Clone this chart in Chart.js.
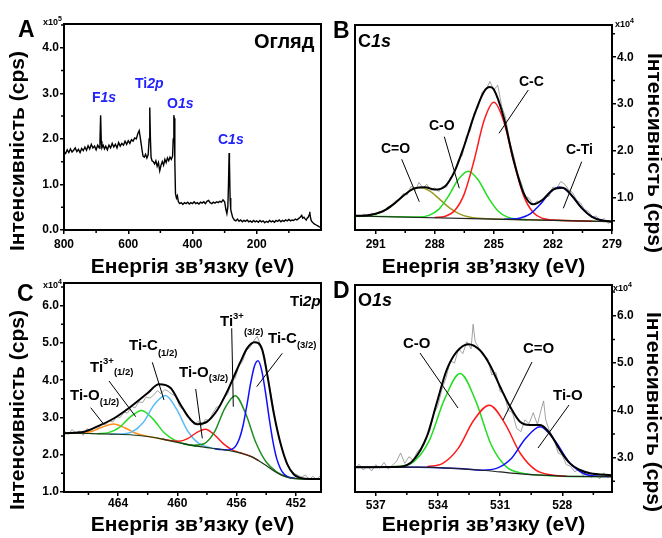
<!DOCTYPE html>
<html>
<head>
<meta charset="utf-8">
<script src="https://cdn.jsdelivr.net/npm/chart.js@4.4.1/dist/chart.umd.min.js"></script>
<style>
  html, body { margin: 0; padding: 0; background: #fff; }
  #wrap { position: relative; width: 662px; height: 538px; overflow: hidden; }
  #wrap canvas { position: absolute; left: 0; top: 0; }
</style>
</head>
<body>
<div id="wrap">
  <canvas id="panelA" width="662" height="538"></canvas>
  <canvas id="panelB" width="662" height="538"></canvas>
  <canvas id="panelC" width="662" height="538"></canvas>
  <canvas id="panelD" width="662" height="538"></canvas>
</div>
<script>
// ---- data: [binding energy eV, intensity] ----

// A: survey, x10^5 cps
const surveyA = [
  [800,1.72],[795,1.68],[790,1.76],[785,1.70],[780,1.78],[775,1.71],[770,1.75],[765,1.80],[760,1.72],[755,1.77],
  [750,1.70],[745,1.79],[740,1.74],[735,1.82],[730,1.75],[725,1.85],[720,1.78],[715,1.88],[710,1.80],[705,1.84],
  [700,1.76],[695,1.86],[690,1.80],[688,1.95],[686,2.52],[684,1.95],[682,1.80],[678,1.86],[674,1.78],[670,1.84],
  [665,1.76],[660,1.86],[655,1.80],[650,1.90],[645,1.82],[640,1.88],[635,1.80],[630,1.92],[625,1.84],[620,1.90],
  [615,1.86],[610,1.95],[605,1.88],[600,1.96],[595,1.90],[590,1.98],[585,1.95],[580,2.02],[575,2.00],[570,2.12],
  [566,2.18],[563,2.05],[560,1.90],[557,1.75],[554,1.62],[550,1.60],[546,1.66],[542,1.58],[538,1.65],[535,2.00],
  [533,2.69],[531,2.00],[529,1.60],[526,1.52],[522,1.50],[518,1.45],[514,1.52],[510,1.40],[506,1.48],[502,1.30],
  [498,1.42],[494,1.50],[490,1.42],[486,1.55],[482,1.48],[478,1.58],[474,1.52],[470,1.60],[466,1.55],[462,1.62],
  [460,2.00],[458,2.52],[457,2.45],[455,1.50],[453,0.80],[450,0.70],[447,0.75],[444,0.62],[440,0.58],[435,0.60],
  [430,0.56],[425,0.60],[420,0.58],[415,0.61],[410,0.57],[405,0.60],[400,0.58],[395,0.62],[390,0.58],[385,0.60],
  [380,0.57],[375,0.61],[370,0.59],[365,0.62],[360,0.58],[355,0.63],[350,0.65],[345,0.60],[340,0.58],[335,0.61],
  [330,0.59],[325,0.62],[320,0.60],[315,0.63],[310,0.61],[305,0.66],[300,0.62],[296,0.45],[293,0.36],[290,0.50],
  [288,1.00],[286,1.69],[285,1.50],[283,0.70],[281,0.45],[278,0.36],[275,0.28],[270,0.22],[265,0.20],[260,0.24],
  [255,0.19],[250,0.22],[245,0.18],[240,0.21],[235,0.19],[230,0.22],[225,0.18],[220,0.20],[215,0.17],[210,0.21],
  [205,0.18],[200,0.20],[195,0.17],[190,0.21],[185,0.18],[180,0.20],[175,0.16],[170,0.19],[165,0.17],[160,0.21],
  [155,0.18],[150,0.20],[145,0.17],[140,0.21],[135,0.19],[130,0.22],[125,0.18],[120,0.21],[115,0.19],[110,0.22],
  [105,0.20],[100,0.23],[95,0.20],[90,0.22],[85,0.21],[80,0.24],[75,0.22],[70,0.25],[65,0.28],[60,0.32],
  [57,0.26],[53,0.28],[50,0.25],[46,0.22],[43,0.26],[40,0.28],[37,0.33],[35,0.40],[33,0.28],[30,0.20],
  [25,0.16],[20,0.13],[15,0.11],[10,0.09],[5,0.07],[1,0.06]
];

// B: C1s, x10^4 cps
const c1sRaw = [
  [292,0.62],[291.8,0.58],[291.6,0.64],[291.4,0.60],[291.2,0.66],[291,0.63],[290.8,0.70],[290.6,0.68],[290.4,0.79],[290.2,0.80],
  [290,0.92],[289.8,0.95],[289.6,1.08],[289.4,1.05],[289.2,1.24],[289,1.14],[288.8,1.32],[288.6,1.20],[288.4,1.28],[288.2,1.15],
  [288,1.20],[287.8,1.12],[287.6,1.24],[287.4,1.22],[287.2,1.42],[287,1.50],[286.8,1.80],[286.6,1.90],[286.4,2.30],[286.2,2.42],
  [286,2.80],[285.8,2.92],[285.6,3.25],[285.4,3.30],[285.2,3.48],[285,3.30],[284.8,3.40],[284.6,2.95],[284.4,2.70],[284.2,2.20],
  [284,1.90],[283.8,1.52],[283.6,1.30],[283.4,1.02],[283.2,0.98],[283,0.84],[282.8,0.92],[282.6,0.86],[282.4,1.02],[282.2,1.02],
  [282,1.22],[281.8,1.20],[281.6,1.34],[281.4,1.28],[281.2,1.16],[281,1.10],[280.8,0.94],[280.6,0.88],[280.4,0.74],[280.2,0.70],
  [280,0.58],[279.8,0.60],[279.6,0.48],[279.4,0.55],[279.2,0.44],[279,0.50]
];
const c1sEnvelope = [
  [292.05,0.605],[291.5,0.612],[291,0.647],[290.5,0.733],[290,0.884],[289.5,1.065],[289,1.197],[288.5,1.215],[288,1.166],
  [287.5,1.227],[287,1.55],[286.5,2.11],[286,2.755],[285.5,3.262],[285.2,3.36],[285,3.31],[284.5,2.716],[284,1.803],
  [283.5,1.101],[283,0.85],[282.5,0.956],[282,1.165],[281.5,1.207],[281,1.016],[280.5,0.753],[280,0.578],[279.5,0.506],[279,0.483]
];
const c1sBaseline = [[292.05,0.60],[285,0.535],[279,0.48]];
const c1sCeqO = [
  [292.05,0.605],[291.75,0.606],[291.25,0.624],[290.75,0.681],[290.25,0.801],[289.75,0.975],[289.25,1.143],[288.75,1.21],
  [288.25,1.133],[287.75,0.957],[287.25,0.773],[286.75,0.645],[286.25,0.578],[285.75,0.55],[285.25,0.539],[283,0.517],[279,0.48]
];
const c1sCO = [
  [292.05,0.60],[290,0.582],[288.8,0.579],[288.3,0.613],[287.8,0.742],[287.3,1.026],[286.8,1.385],[286.3,1.557],
  [285.8,1.375],[285.3,1.007],[284.8,0.713],[284.3,0.576],[283.8,0.532],[283.3,0.52]
];
const c1sCC = [
  [288,0.568],[287.5,0.591],[287,0.71],[286.5,1.074],[286,1.795],[285.5,2.64],[285,3.035],[284.5,2.631],[284,1.776],
  [283.5,1.047],[283,0.673],[282.5,0.545],[282,0.513],[280,0.489]
];
const c1sCTi = [
  [284.5,0.531],[284.15,0.533],[283.65,0.556],[283.15,0.645],[282.65,0.845],[282.15,1.10],[281.65,1.22],[281.15,1.09],
  [280.65,0.827],[280.15,0.617],[279.65,0.519],[279.15,0.487],[279,0.482]
];

// C: Ti2p, x10^4 cps
const ti2pRaw = [
  [467.6,2.62],[467.35,2.55],[467.1,2.68],[466.85,2.58],[466.6,2.64],[466.35,2.52],[466.1,2.70],[465.85,2.62],[465.6,2.74],[465.35,2.70],
  [465.1,2.84],[464.85,2.80],[464.6,2.92],[464.35,2.88],[464.1,3.02],[463.85,3.00],[463.6,3.14],[463.35,3.12],[463.1,3.30],[462.85,3.26],
  [462.6,3.42],[462.35,3.40],[462.1,3.55],[461.85,3.52],[461.6,3.60],[461.35,3.72],[461.1,3.64],[460.85,3.75],[460.6,3.70],[460.35,3.62],
  [460.1,3.58],[459.85,3.30],[459.6,3.20],[459.35,3.02],[459.1,2.98],[458.85,2.80],[458.6,2.90],[458.35,2.78],[458.1,2.95],[457.85,2.92],
  [457.6,3.12],[457.35,3.28],[457.1,3.30],[456.85,3.55],[456.6,3.62],[456.35,3.95],[456.1,4.05],[455.85,4.38],[455.6,4.50],[455.35,4.80],
  [455.1,4.88],[454.85,5.05],[454.6,5.18],[454.35,4.90],[454.1,4.62],[453.85,4.00],[453.6,3.45],[453.35,2.85],[453.1,2.40],[452.85,2.05],
  [452.6,1.78],[452.35,1.58],[452.1,1.50],[451.85,1.45],[451.6,1.40],[451.35,1.46],[451.1,1.34],[450.85,1.42],[450.6,1.33],[450.35,1.44]
];
const ti2pEnvelope = [
  [467.65,2.58],[466.29,2.62],[465.39,2.76],[464.27,2.98],[463.15,3.29],[462.02,3.65],[461.24,3.89],[460.45,3.79],[459.78,3.34],
  [459.1,2.94],[458.65,2.82],[457.98,2.89],[457.3,3.2],[456.63,3.7],[456.18,4.1],[455.73,4.5],[455.28,4.86],[454.79,5.02],
  [454.27,4.82],[453.93,4.15],[453.48,3.1],[453.03,2.3],[452.58,1.75],[452.13,1.47],[451.69,1.38],[451.01,1.35],[450.3,1.35]
];
const ti2pBaseline = [
  [467.65,2.58],[466,2.57],[464,2.55],[463,2.53],[462,2.49],[461,2.42],[460,2.33],[459,2.25],[458,2.19],[457,2.14],[456,2.07],
  [455.5,2.02],[455,1.95],[454.5,1.84],[454,1.71],[453.5,1.57],[453,1.46],[452.5,1.39],[452,1.36],[451,1.34],[450.3,1.34]
];
const tiO12 = [
  [467.3,2.58],[466.55,2.583],[465.8,2.622],[465.05,2.743],[464.3,2.825],[463.55,2.723],[462.8,2.577],[462.05,2.498],[461.3,2.44],[460.5,2.375]
];
const ti3p12 = [
  [465.4,2.566],[464.65,2.594],[463.9,2.735],[463.15,3.023],[462.4,3.19],[461.65,2.963],[460.9,2.597],[460.15,2.382],[459.4,2.284],[458.7,2.225]
];
const tiC12 = [
  [464.55,2.553],[463.8,2.557],[463.05,2.613],[462.3,2.867],[461.55,3.347],[460.8,3.59],[460.05,3.222],[459.3,2.637],[458.55,2.303],
  [457.8,2.191],[457.05,2.14]
];
const tiO32 = [
  [461,2.42],[460.5,2.381],[459.9,2.361],[459.3,2.432],[458.7,2.596],[458.1,2.685],[457.5,2.536],[456.9,2.297],[456.3,2.131],
  [455.7,2.046],[455,1.95],[454.5,1.84]
];
const ti3p32 = [
  [459.6,2.29],[458.9,2.256],[458.2,2.294],[457.5,2.604],[456.8,3.24],[456.1,3.585],[455.4,3.12],[454.7,2.329],[454,1.804],
  [453.3,1.541],[452.5,1.39],[452,1.36],[451,1.34],[450.3,1.34]
];
const tiC32 = [
  [457.5,2.165],[457.05,2.14],[456.55,2.13],[456.3,2.15],[456.05,2.24],[455.8,2.44],[455.55,2.805],[455.3,3.335],[455.05,3.92],
  [454.8,4.37],[454.55,4.52],[454.3,4.26],[454.05,3.68],[453.8,2.985],[453.55,2.365],[453.3,1.91],[453.05,1.637],[452.8,1.48],
  [452.55,1.41],[452.05,1.36]
];

// D: O1s, x10^4 cps
const o1sRaw = [
  [538,2.78],[537.8,2.86],[537.6,2.74],[537.4,2.82],[537.2,2.72],[537,2.85],[536.8,2.78],[536.6,2.90],[536.4,2.76],[536.2,2.84],
  [536,2.92],[535.8,3.10],[535.6,2.88],[535.4,3.02],[535.2,2.95],[535,3.12],[534.8,3.22],[534.6,3.40],[534.4,3.55],[534.2,3.92],
  [534,4.10],[533.8,4.45],[533.6,4.70],[533.4,5.05],[533.2,5.00],[533,5.30],[532.8,5.20],[532.6,5.45],[532.4,5.30],[532.3,5.82],
  [532.2,5.45],[532,5.30],[531.8,5.15],[531.6,5.10],[531.4,4.75],[531.2,4.80],[531,4.40],[530.8,4.35],[530.6,4.00],[530.4,3.95],
  [530.2,3.62],[530,3.55],[529.8,3.80],[529.6,3.72],[529.4,3.95],[529.2,3.70],[529,4.05],[528.9,4.20],[528.8,3.80],[528.6,3.55],
  [528.4,3.40],[528.2,3.10],[528,3.05],[527.8,2.85],[527.6,2.82],[527.4,2.70],[527.2,2.76],[527,2.62],[526.8,2.70],[526.6,2.58],
  [526.4,2.66],[526.2,2.55],[526,2.68],[525.8,2.58],[525.6,2.65]
];
const o1sEnvelope = [
  [538,2.80],[535.83,2.81],[535.18,2.95],[534.54,3.44],[534.06,4.15],[533.58,4.85],[533.09,5.24],[532.53,5.40],[531.97,5.27],
  [531.49,4.96],[531,4.50],[530.52,4.08],[530.04,3.76],[529.56,3.69],[529.07,3.69],[528.59,3.51],[528.11,3.16],[527.63,2.88],
  [527.14,2.74],[526.66,2.67],[525.6,2.63]
];
const o1sBaseline = [[538,2.80],[535,2.80],[534,2.79],[533,2.77],[532,2.74],[531,2.70],[530,2.66],[529,2.63],[528,2.61],[525.6,2.60]];
const o1sCO = [
  [538,2.80],[535.93,2.812],[535.18,2.911],[534.43,3.349],[533.68,4.237],[532.93,4.78],[532.18,4.207],[531.43,3.274],[530.68,2.801],
  [529.93,2.672],[529,2.63],[528,2.61],[525.6,2.60]
];
const o1sCeqO = [
  [534.52,2.81],[533.77,2.88],[533.02,3.198],[532.27,3.791],[531.52,4.11],[530.77,3.726],[530.02,3.088],[529.27,2.735],[528.52,2.633],[527.8,2.608]
];
const o1sTiO = [
  [538,2.80],[535,2.80],[533,2.77],[531.87,2.737],[531.17,2.774],[530.47,2.977],[529.77,3.405],[529.07,3.652],[528.37,3.368],
  [527.67,2.904],[526.97,2.667],[526.27,2.607],[525.6,2.60]
];

// ticks
const ticksAx = [800, 600, 400, 200], minorAx = [700, 500, 300, 100];
const ticksAy = [0, 1, 2, 3, 4], minorAy = [0.5, 1.5, 2.5, 3.5, 4.5];
const ticksBx = [291, 288, 285, 282, 279], minorBx = [289.5, 286.5, 283.5, 280.5];
const ticksBy = [1, 2, 3, 4], minorBy = [0.5, 1.5, 2.5, 3.5, 4.5];
const ticksCx = [464, 460, 456, 452], minorCx = [466, 462, 458, 454];
const ticksCy = [1, 2, 3, 4, 5, 6], minorCy = [1.5, 2.5, 3.5, 4.5, 5.5, 6.5];
const ticksDx = [537, 534, 531, 528], minorDx = [535.5, 532.5, 529.5, 526.5];
const ticksDy = [3, 4, 5, 6], minorDy = [2.5, 3.5, 4.5, 5.5, 6.5];

// ---- drawing ----
const FAMILY = '"Liberation Sans", Arial, Helvetica, sans-serif';
const W = 662, H = 538;
const BLUE_TXT = '#2222ff';
const XTITLE = 'Енергія зв’язку (eV)';
const YTITLE = 'Інтенсивність (cps)';

function font(size, italic) {
  return (italic ? 'italic ' : '') + 'bold ' + size + 'px ' + FAMILY;
}

function series(pairs, color, width, smooth) {
  return {
    data: pairs.map(([x, y]) => ({ x, y })),
    showLine: true,
    borderColor: color,
    borderWidth: width,
    pointRadius: 0,
    fill: false,
    tension: 0,
    cubicInterpolationMode: smooth ? 'monotone' : 'default'
  };
}

function drawRuns(ctx, item) {
  let total = 0;
  item.runs.forEach(r => { ctx.font = font(r[1], r[2]); r.w = ctx.measureText(r[0]).width; total += r.w; });
  let x = item.align === 'center' ? item.x - total / 2 : item.x;
  ctx.fillStyle = item.color || '#000';
  ctx.textAlign = 'left';
  ctx.textBaseline = 'alphabetic';
  item.runs.forEach(r => {
    ctx.font = font(r[1], r[2]);
    ctx.fillText(r[0], x, item.y + (r[3] || 0));
    x += r.w;
  });
}

function decor(p) {
  return {
    id: 'decor',
    afterDraw(chart) {
      const { ctx, chartArea: a, scales } = chart;
      ctx.save();
      ctx.strokeStyle = '#000';
      ctx.lineWidth = 2;
      ctx.strokeRect(a.left, a.top, a.right - a.left, a.bottom - a.top);

      ctx.lineWidth = 1.5;
      ctx.beginPath();
      p.minorX.forEach(v => {
        const px = scales.x.getPixelForValue(v);
        ctx.moveTo(px, a.bottom); ctx.lineTo(px, a.bottom + 3);
      });
      p.minorY.forEach(v => {
        const py = scales.y.getPixelForValue(v);
        if (p.yRight) { ctx.moveTo(a.right, py); ctx.lineTo(a.right + 3, py); }
        else { ctx.moveTo(a.left, py); ctx.lineTo(a.left - 3, py); }
      });
      ctx.stroke();

      ctx.lineWidth = 1;
      ctx.beginPath();
      p.leaders.forEach(([x1, y1, x2, y2]) => { ctx.moveTo(x1, y1); ctx.lineTo(x2, y2); });
      ctx.stroke();

      p.labels.forEach(l => drawRuns(ctx, l));

      // axis titles
      ctx.fillStyle = '#000';
      ctx.font = font(21);
      ctx.textAlign = 'center';
      ctx.textBaseline = 'alphabetic';
      ctx.fillText(XTITLE, (a.left + a.right) / 2, p.xTitleY);
      ctx.save();
      ctx.translate(p.yTitle[0], p.yTitle[1]);
      ctx.rotate(p.yRight ? Math.PI / 2 : -Math.PI / 2);
      ctx.fillText(YTITLE, 0, 0);
      ctx.restore();
      ctx.restore();
    }
  };
}

function makePanel(id, p) {
  const yW = p.yRight ? 50 : 64;
  const xH = 30;
  const pad = {
    top: p.area.t,
    left: p.yRight ? p.area.l : p.area.l - yW,
    right: p.yRight ? W - p.area.r - yW : W - p.area.r,
    bottom: H - p.area.b - xH
  };
  const tickFont = { family: FAMILY, size: 12, weight: 'bold' };
  return new Chart(document.getElementById(id), {
    type: 'scatter',
    data: { datasets: p.datasets },
    options: {
      responsive: false,
      animation: false,
      events: [],
      layout: { padding: pad },
      plugins: { legend: { display: false }, tooltip: { enabled: false } },
      scales: {
        x: {
          type: 'linear', reverse: true, min: p.x[0], max: p.x[1],
          afterBuildTicks: s => { s.ticks = p.ticksX.map(v => ({ value: v })); },
          afterFit: s => { s.height = xH; },
          grid: { drawOnChartArea: false, drawTicks: true, tickLength: 4, color: '#000', lineWidth: 1.5 },
          border: { display: true, color: '#000', width: 2 },
          ticks: { color: '#000', font: tickFont, padding: p.xPad, maxRotation: 0, autoSkip: false, callback: v => String(v) }
        },
        y: {
          type: 'linear', position: p.yRight ? 'right' : 'left', min: p.y[0], max: p.y[1],
          afterBuildTicks: s => { s.ticks = p.ticksY.map(v => ({ value: v })); },
          afterFit: s => { s.width = yW; },
          grid: { drawOnChartArea: false, drawTicks: true, tickLength: 4, color: '#000', lineWidth: 1.5 },
          border: { display: true, color: '#000', width: 2 },
          ticks: { color: '#000', font: tickFont, padding: 1, autoSkip: false, callback: v => v.toFixed(1) }
        }
      }
    },
    plugins: [decor(p)]
  });
}

const mult = (x, y, n) => ({ x, y, runs: [['x10', 9], [n, 7, false, -4]] });

// A: survey
makePanel('panelA', {
  area: { l: 64, t: 24, r: 321, b: 230 },
  x: [0, 800], y: [0, 4.52],
  ticksX: ticksAx, minorX: minorAx, ticksY: ticksAy, minorY: minorAy,
  xPad: 3, xTitleY: 273, yTitle: [24, 151],
  datasets: [series(surveyA, '#000', 1.4, false)],
  leaders: [],
  labels: [
    { x: 18, y: 37, runs: [['A', 23]] },
    mult(43, 25, '5'),
    { x: 254, y: 48, runs: [['Огляд', 20]] },
    { x: 92, y: 102, color: BLUE_TXT, runs: [['F', 14], ['1s', 14, true]] },
    { x: 135, y: 88, color: BLUE_TXT, runs: [['Ti', 14], ['2p', 14, true]] },
    { x: 167, y: 108, color: BLUE_TXT, runs: [['O', 14], ['1s', 14, true]] },
    { x: 218, y: 144, color: BLUE_TXT, runs: [['C', 14], ['1s', 14, true]] }
  ]
});

// B: C1s
makePanel('panelB', {
  area: { l: 355, t: 25, r: 612, b: 230 }, yRight: true,
  x: [279, 292.05], y: [0.3, 4.69],
  ticksX: ticksBx, minorX: minorBx, ticksY: ticksBy, minorY: minorBy,
  xPad: 3, xTitleY: 273, yTitle: [648, 153],
  datasets: [
    series(c1sEnvelope, '#000', 2, true),
    series(c1sBaseline, '#222', 1.2, false),
    series(c1sCTi, '#1010ff', 1.5, true),
    series(c1sCC, '#ff1a1a', 1.5, true),
    series(c1sCO, '#22dd22', 1.5, true),
    series(c1sCeqO, '#9a9a1e', 1.5, true),
    series(c1sRaw, '#8a8a8a', 0.8, false)
  ],
  leaders: [[401.7, 159.3, 419.3, 201.7], [444.3, 136.7, 459.3, 188.3], [528.3, 90, 499, 133.3], [581.7, 161.7, 563.3, 208.3]],
  labels: [
    { x: 333, y: 38, runs: [['B', 23]] },
    { x: 358, y: 47, runs: [['C', 18], ['1s', 18, true]] },
    mult(615, 27, '4'),
    { x: 381, y: 153, runs: [['C=O', 14]] },
    { x: 429, y: 130, runs: [['C-O', 14]] },
    { x: 519, y: 86, runs: [['C-C', 14]] },
    { x: 566, y: 154, runs: [['C-Ti', 14]] }
  ]
});

// C: Ti2p
makePanel('panelC', {
  area: { l: 64, t: 283, r: 321, b: 492 },
  x: [450.3, 467.65], y: [1.0, 6.61],
  ticksX: ticksCx, minorX: minorCx, ticksY: ticksCy, minorY: minorCy,
  xPad: 0, xTitleY: 531, yTitle: [24, 410],
  datasets: [
    series(ti2pEnvelope, '#000', 2, true),
    series(ti2pBaseline, '#1a3a1a', 1.2, true),
    series(tiC32, '#1010ff', 1.5, true),
    series(ti3p32, '#1f8f1f', 1.5, true),
    series(tiO32, '#ff1a1a', 1.5, true),
    series(tiC12, '#5bbcf5', 1.5, true),
    series(ti3p12, '#22dd22', 1.5, true),
    series(tiO12, '#ff8c1a', 1.5, true),
    series(ti2pRaw, '#8a8a8a', 0.8, false)
  ],
  leaders: [
    [90.7, 407.7, 103.3, 423.7], [109, 381, 135.7, 416.7], [152.3, 362.3, 164, 400],
    [195.7, 389, 202.3, 438.3], [231.7, 328.3, 233.3, 406.7], [282.3, 353.3, 256.7, 386.7]
  ],
  labels: [
    { x: 17, y: 301, runs: [['C', 23]] },
    mult(43, 288, '4'),
    { x: 290, y: 306, runs: [['Ti', 15], ['2p', 15, true]] },
    { x: 70, y: 400, runs: [['Ti-O', 15], ['(1/2)', 9.5, false, 5]] },
    { x: 90, y: 372, runs: [['Ti', 15], ['3+', 9.5, false, -8], ['(1/2)', 9.5, false, 3]] },
    { x: 129, y: 350, runs: [['Ti-C', 15], ['(1/2)', 9.5, false, 6]] },
    { x: 179, y: 377, runs: [['Ti-O', 15], ['(3/2)', 9.5, false, 4]] },
    { x: 220, y: 326, runs: [['Ti', 15], ['3+', 9.5, false, -7], ['(3/2)', 9.5, false, 9]] },
    { x: 268, y: 343, runs: [['Ti-C', 15], ['(3/2)', 9.5, false, 5]] }
  ]
});

// D: O1s
makePanel('panelD', {
  area: { l: 355, t: 285, r: 612, b: 492 }, yRight: true,
  x: [525.6, 538.0], y: [2.275, 6.65],
  ticksX: ticksDx, minorX: minorDx, ticksY: ticksDy, minorY: minorDy,
  xPad: 2, xTitleY: 531, yTitle: [647, 412],
  datasets: [
    series(o1sEnvelope, '#000', 2, true),
    series(o1sBaseline, '#222', 1.2, true),
    series(o1sTiO, '#1010ff', 1.5, true),
    series(o1sCeqO, '#ff1a1a', 1.5, true),
    series(o1sCO, '#22dd22', 1.5, true),
    series(o1sRaw, '#8a8a8a', 0.8, false)
  ],
  leaders: [[420, 353, 458, 408], [532, 362, 503, 420], [569, 405, 538, 448]],
  labels: [
    { x: 333, y: 298, runs: [['D', 23]] },
    { x: 358, y: 306, runs: [['O', 18], ['1s', 18, true]] },
    mult(613, 291, '4'),
    { x: 403, y: 348, runs: [['C-O', 15]] },
    { x: 523, y: 353, runs: [['C=O', 15]] },
    { x: 553, y: 400, runs: [['Ti-O', 15]] }
  ]
});
</script>
</body>
</html>
